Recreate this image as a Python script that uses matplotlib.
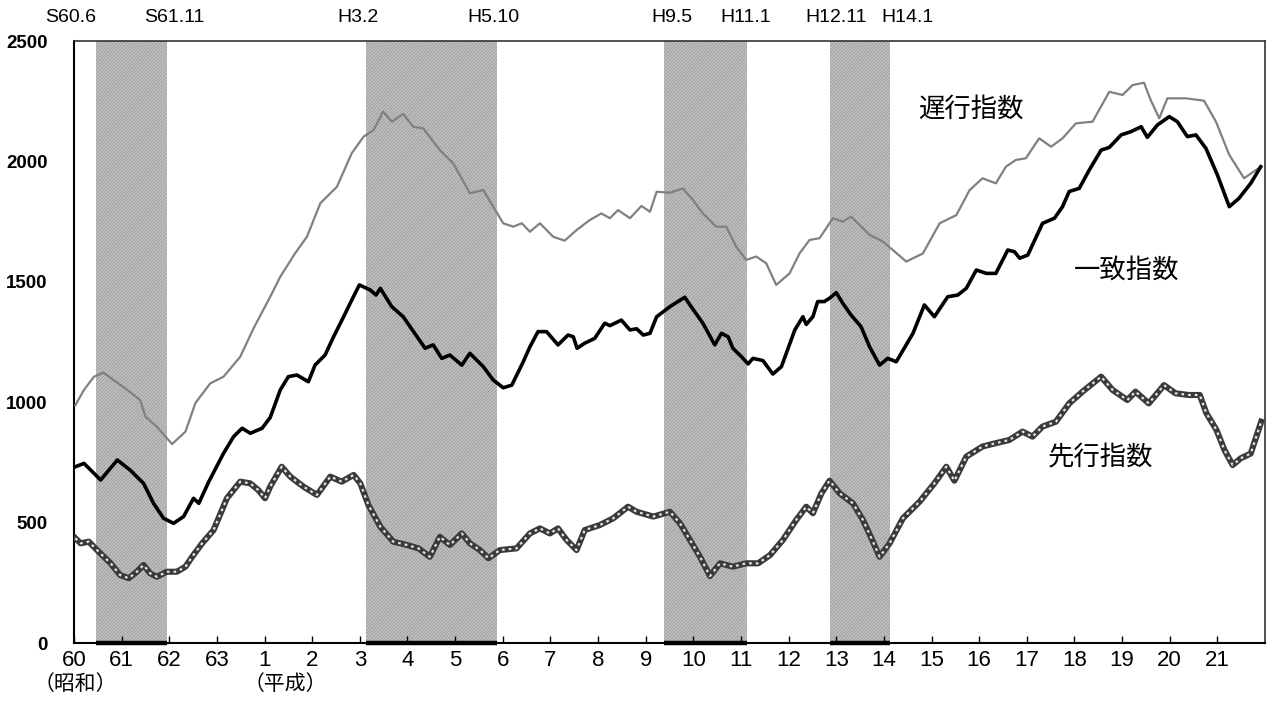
import matplotlib
matplotlib.use('Agg')
import matplotlib.pyplot as plt
import matplotlib.transforms as mtransforms

# 遅行指数 (lagging index) (decimal year, value)
lag_t = [1985.03, 1985.21, 1985.42, 1985.62, 1985.83, 1986.12, 1986.39, 1986.50, 1986.74, 1987.06,
         1987.34, 1987.55, 1987.86, 1988.14, 1988.49, 1988.77, 1989.12, 1989.33, 1989.64, 1989.89,
         1990.17, 1990.52, 1990.83, 1991.08, 1991.29, 1991.49, 1991.67, 1991.91, 1992.12, 1992.33,
         1992.68, 1992.96, 1993.31, 1993.59, 1993.80, 1994.01, 1994.22, 1994.40, 1994.57, 1994.78,
         1995.06, 1995.30, 1995.55, 1995.83, 1996.07, 1996.25, 1996.42, 1996.67, 1996.91, 1997.09,
         1997.23, 1997.51, 1997.78, 1997.99, 1998.20, 1998.48, 1998.69, 1998.90, 1999.11, 1999.32,
         1999.53, 1999.74, 2000.02, 2000.23, 2000.44, 2000.65, 2000.93, 2001.14, 2001.31, 2001.70,
         2001.98, 2002.47, 2002.82, 2003.17, 2003.52, 2003.80, 2004.07, 2004.35, 2004.56, 2004.77,
         2004.98, 2005.26, 2005.51, 2005.75, 2006.03, 2006.38, 2006.73, 2007.01, 2007.22, 2007.46,
         2007.60, 2007.78, 2007.95, 2008.34, 2008.72, 2008.97, 2009.25, 2009.56, 2009.91]
lag_v = [988, 1051, 1106, 1123, 1092, 1051, 1009, 940, 898, 826,
         878, 997, 1078, 1106, 1189, 1307, 1438, 1521, 1618, 1687,
         1826, 1895, 2034, 2103, 2130, 2207, 2165, 2197, 2144, 2137,
         2047, 1992, 1868, 1881, 1812, 1743, 1729, 1743, 1708, 1743,
         1687, 1671, 1715, 1757, 1784, 1764, 1798, 1764, 1815, 1791,
         1874, 1870, 1888, 1840, 1784, 1729, 1729, 1646, 1591, 1605,
         1577, 1487, 1535, 1618, 1674, 1681, 1764, 1750, 1771, 1695,
         1667, 1584, 1618, 1743, 1777, 1881, 1930, 1909, 1978, 2006,
         2013, 2096, 2061, 2096, 2158, 2165, 2289, 2276, 2317, 2327,
         2255, 2179, 2262, 2262, 2252, 2165, 2027, 1930, 1978]

# 一致指数 (coincident index)
coin_t = [1985.03, 1985.21, 1985.56, 1985.91, 1986.18, 1986.46, 1986.67, 1986.88, 1987.09, 1987.30,
          1987.51, 1987.62, 1987.83, 1988.14, 1988.35, 1988.53, 1988.70, 1988.95, 1989.12, 1989.33,
          1989.50, 1989.68, 1989.92, 1990.06, 1990.27, 1990.45, 1990.66, 1990.83, 1990.99, 1991.22,
          1991.34, 1991.43, 1991.67, 1991.91, 1992.20, 1992.37, 1992.54, 1992.72, 1992.89, 1993.14,
          1993.31, 1993.59, 1993.80, 1994.01, 1994.19, 1994.43, 1994.57, 1994.74, 1994.92, 1995.16,
          1995.37, 1995.48, 1995.56, 1995.72, 1995.93, 1996.14, 1996.25, 1996.49, 1996.67, 1996.81,
          1996.95, 1997.09, 1997.23, 1997.51, 1997.82, 1997.93, 1998.20, 1998.45, 1998.59, 1998.73,
          1998.83, 1999.01, 1999.15, 1999.25, 1999.46, 1999.67, 1999.85, 2000.13, 2000.30, 2000.37,
          2000.51, 2000.61, 2000.75, 2000.86, 2001.00, 2001.14, 2001.31, 2001.52, 2001.70, 2001.91,
          2002.08, 2002.26, 2002.61, 2002.85, 2003.06, 2003.34, 2003.55, 2003.73, 2003.94, 2004.15,
          2004.35, 2004.60, 2004.74, 2004.85, 2005.02, 2005.33, 2005.58, 2005.75, 2005.89, 2006.10,
          2006.31, 2006.56, 2006.73, 2006.98, 2007.19, 2007.40, 2007.53, 2007.74, 2007.99, 2008.16,
          2008.37, 2008.55, 2008.76, 2009.00, 2009.25, 2009.45, 2009.70, 2009.91]
coin_v = [732, 746, 677, 760, 718, 663, 580, 518, 497, 525,
          601, 580, 670, 788, 857, 892, 871, 892, 937, 1051,
          1106, 1113, 1085, 1154, 1196, 1272, 1355, 1424, 1487, 1466,
          1445, 1473, 1397, 1355, 1272, 1224, 1238, 1182, 1196, 1154,
          1203, 1148, 1092, 1060, 1071, 1168, 1230, 1293, 1293, 1238,
          1279, 1272, 1224, 1245, 1265, 1328, 1318, 1341, 1300, 1305,
          1279, 1286, 1355, 1397, 1436, 1404, 1328, 1238, 1286, 1272,
          1224, 1189, 1159, 1182, 1173, 1117, 1148, 1300, 1355, 1323,
          1355, 1418, 1418, 1432, 1455, 1410, 1362, 1314, 1230, 1154,
          1182, 1168, 1286, 1404, 1355, 1438, 1445, 1473, 1549, 1535,
          1535, 1632, 1625, 1598, 1611, 1743, 1764, 1812, 1875, 1888,
          1964, 2047, 2058, 2110, 2124, 2144, 2100, 2151, 2186, 2165,
          2103, 2110, 2054, 1944, 1812, 1846, 1909, 1978]

# 先行指数 (leading index)
lead_t = [1985.03, 1985.14, 1985.31, 1985.52, 1985.77, 1985.97, 1986.15, 1986.32, 1986.46, 1986.60,
          1986.74, 1986.95, 1987.16, 1987.34, 1987.48, 1987.69, 1987.93, 1988.21, 1988.49, 1988.70,
          1988.87, 1989.01, 1989.12, 1989.36, 1989.54, 1989.82, 1990.10, 1990.38, 1990.62, 1990.87,
          1991.01, 1991.18, 1991.43, 1991.70, 1991.99, 1992.23, 1992.47, 1992.68, 1992.89, 1993.14,
          1993.31, 1993.52, 1993.70, 1993.94, 1994.29, 1994.57, 1994.78, 1994.99, 1995.16, 1995.34,
          1995.55, 1995.72, 1996.04, 1996.32, 1996.63, 1996.81, 1997.16, 1997.51, 1997.72, 1997.93,
          1998.14, 1998.35, 1998.56, 1998.83, 1999.11, 1999.36, 1999.61, 1999.88, 2000.16, 2000.37,
          2000.51, 2000.69, 2000.86, 2001.07, 2001.35, 2001.56, 2001.70, 2001.91, 2002.12, 2002.40,
          2002.75, 2003.06, 2003.31, 2003.48, 2003.73, 2004.07, 2004.35, 2004.63, 2004.91, 2005.12,
          2005.33, 2005.61, 2005.89, 2006.17, 2006.56, 2006.80, 2007.11, 2007.28, 2007.56, 2007.88,
          2008.12, 2008.40, 2008.63, 2008.77, 2008.98, 2009.15, 2009.32, 2009.49, 2009.70, 2009.92]
lead_v = [435, 414, 421, 379, 331, 282, 269, 296, 324, 289,
          275, 296, 296, 317, 358, 414, 469, 601, 670, 663,
          635, 601, 650, 732, 691, 649, 615, 691, 670, 698,
          663, 573, 483, 421, 407, 393, 358, 441, 407, 455,
          414, 386, 352, 386, 393, 455, 476, 455, 476, 428,
          386, 469, 490, 518, 566, 545, 525, 545, 497, 428,
          358, 278, 331, 317, 331, 331, 365, 428, 511, 566,
          539, 622, 674, 622, 580, 511, 452, 358, 414, 518,
          587, 663, 732, 674, 774, 816, 830, 843, 878, 857,
          899, 919, 995, 1044, 1106, 1051, 1009, 1044, 995, 1071,
          1037, 1030, 1030, 954, 885, 801, 739, 767, 787, 919]

# recessions: peak and trough (year, month)
peaks = [(1985, 6), (1991, 2), (1997, 5), (2000, 11)]
troughs = [(1986, 11), (1993, 10), (1999, 1), (2002, 1)]

top_labels = ['S60.6', 'S61.11', 'H3.2', 'H5.10', 'H9.5', 'H11.1', 'H12.11', 'H14.1']
top_label_x = [1984.93, 1987.11, 1990.96, 1993.81, 1997.55, 1999.10, 2000.99, 2002.50]

tick_years = list(range(1985, 2010))
tick_labels = ['60', '61', '62', '63'] + [str(i) for i in range(1, 22)]

plt.rcParams['font.family'] = ['Liberation Sans', 'DejaVu Sans']
plt.rcParams['hatch.linewidth'] = 0.6
jp = ['Noto Sans CJK JP', 'DejaVu Sans']

fig = plt.figure(figsize=(12.71, 7.17), dpi=100)
ax = fig.add_axes([0.0582, 0.1032, 0.9371, 0.8396])

# shaded recession periods
for (py, pm), (ty, tm) in zip(peaks, troughs):
    x0 = py + (pm - 0.5) / 12
    x1 = ty + (tm + 0.5) / 12
    ax.axvspan(x0, x1, facecolor='#c2c2c2', hatch='//////////', edgecolor='#9a9a9a',
               linewidth=0, zorder=0)
    ax.plot([x0, x1], [0, 0], color='black', lw=3.2, solid_capstyle='butt',
            clip_on=False, zorder=6)

ax.plot(lag_t, lag_v, color='#808080', lw=1.6, zorder=3)
ax.plot(coin_t, coin_v, color='black', lw=2.6, zorder=4)
# leading index: dark chain with light small squares
ax.plot(lead_t, lead_v, color='#3a3a3a', lw=4.4, solid_joinstyle='round', zorder=5)
ax.plot(lead_t, lead_v, color='#e4e4e4', lw=1.6, dashes=(1.2, 1.8), zorder=5)

ax.set_xlim(1985, 2010)
ax.set_ylim(0, 2500)
ax.set_yticks([0, 500, 1000, 1500, 2000, 2500])
ax.tick_params(axis='y', length=0, pad=19, labelsize=13.5)
for lbl in ax.get_yticklabels():
    lbl.set_fontweight('bold')
ax.set_xticks(tick_years)
ax.set_xticklabels(tick_labels)
ax.tick_params(axis='x', direction='in', length=5, width=1, pad=5, labelsize=16)

for side in ['left', 'bottom']:
    ax.spines[side].set_linewidth(1.5)
for side in ['top', 'right']:
    ax.spines[side].set_linewidth(1.2)
    ax.spines[side].set_color('#333333')

# era labels under the axis
trans = mtransforms.blended_transform_factory(ax.transData, fig.transFigure)
ax.text(1985.03, 1 - 684 / 717, '（昭和）', transform=trans, ha='center', va='center',
        fontsize=15, family=jp)
ax.text(1989.43, 1 - 684 / 717, '（平成）', transform=trans, ha='center', va='center',
        fontsize=15, family=jp)

# peak / trough labels above the chart
for lab, xl in zip(top_labels, top_label_x):
    ax.text(xl, 1 - 18 / 717, lab, transform=trans, ha='center', va='center', fontsize=14)

ax.text(2003.82, 2218, '遅行指数', ha='center', va='center', fontsize=19, family=jp)
ax.text(2007.10, 1549, '一致指数', ha='center', va='center', fontsize=19, family=jp)
ax.text(2006.54, 768, '先行指数', ha='center', va='center', fontsize=19, family=jp)

fig.savefig('out.png', dpi=100)
